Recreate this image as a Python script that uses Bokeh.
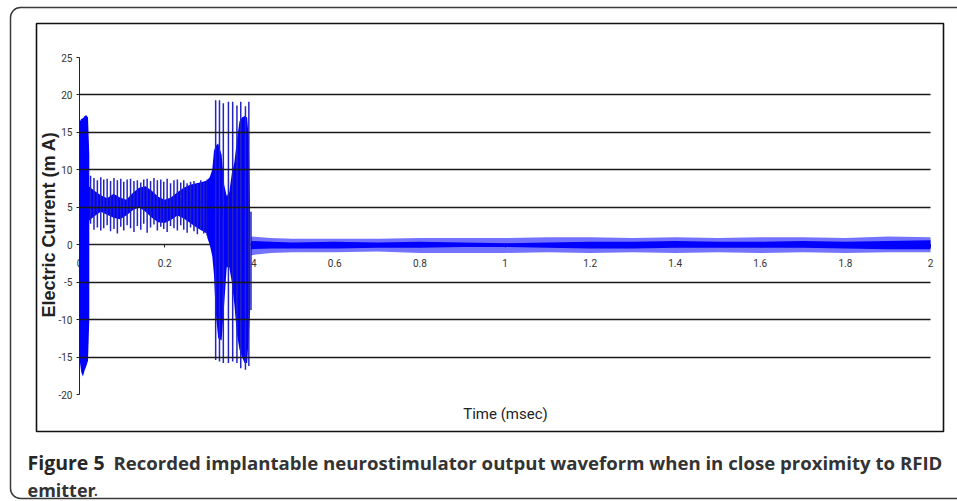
from bokeh.plotting import figure
from bokeh.models import Range1d, FixedTicker, BoxAnnotation, Label, Grid
from bokeh.embed import file_html
from bokeh.resources import INLINE
import math

# ---------------- data ----------------
x_ticks = [0, 0.2, 0.4, 0.6, 0.8, 1.0, 1.2, 1.4, 1.6, 1.8, 2.0]
x_tick_labels = ["0", "0.2", "0.4", "0.6", "0.8", "1", "1.2", "1.4", "1.6", "1.8", "2"]
y_ticks = [-20, -15, -10, -5, 0, 5, 10, 15, 20, 25]
y_tick_labels = ["-20", "-15", "-10", "-5", "0", "5", "10", "15", "20", "25"]
grid_levels = [-15, -10, -5, 5, 10, 15, 20]

# initial spike (solid envelope)
spike_t = [0.000, 0.004, 0.008, 0.012, 0.016, 0.020, 0.023]
spike_hi = [16.4, 16.8, 16.9, 17.2, 17.3, 17.0, 12.0]
spike_lo = [-15.2, -17.0, -17.6, -16.8, -16.2, -15.5, -10.0]

# 0.025 - 0.31 ms : individual oscillation strokes
osc_t = [0.026, 0.034, 0.042, 0.050, 0.057, 0.065, 0.073, 0.081, 0.089, 0.097,
         0.104, 0.112, 0.120, 0.128, 0.136, 0.144, 0.151, 0.159, 0.167, 0.175,
         0.183, 0.191, 0.198, 0.206, 0.214, 0.222, 0.230, 0.238, 0.245, 0.253,
         0.261, 0.269, 0.277, 0.285, 0.292, 0.300]
osc_hi = [9.2, 8.9, 8.6, 9.0, 8.7, 8.8, 8.5, 8.9, 8.6, 8.8,
          8.4, 8.7, 8.8, 8.5, 8.6, 8.3, 8.7, 8.8, 8.5, 8.9,
          8.6, 8.7, 8.4, 8.8, 8.2, 8.6, 8.7, 8.3, 8.6, 8.2,
          8.4, 8.5, 8.1, 8.6, 8.3, 8.7]
osc_lo = [2.8, 2.0, 2.3, 1.9, 2.2, 2.6, 1.8, 2.1, 1.5, 2.4,
          1.9, 2.6, 2.2, 1.7, 2.5, 2.0, 2.8, 1.6, 2.3, 2.7,
          1.9, 2.4, 2.1, 1.7, 2.5, 2.2, 1.9, 2.6, 2.0, 1.6,
          2.3, 1.8, 1.4, 2.1, 1.5, 1.2]

# dense core of that oscillation
band_t = [0.022, 0.035, 0.050, 0.065, 0.080, 0.095, 0.110, 0.125, 0.140, 0.155,
          0.170, 0.185, 0.200, 0.215, 0.230, 0.245, 0.260, 0.275, 0.290, 0.302]
band_hi = [7.8, 7.2, 6.6, 6.2, 6.8, 6.3, 6.0, 6.9, 7.6, 7.8,
           7.2, 6.4, 6.0, 6.3, 7.0, 7.6, 8.0, 8.2, 8.4, 8.6]
band_lo = [3.2, 3.8, 4.4, 4.0, 3.6, 3.4, 3.9, 4.6, 5.0, 4.4,
           3.6, 3.0, 2.9, 3.3, 3.9, 3.5, 2.9, 2.3, 1.8, 1.4]

# RFID burst: solid core
mass_t = [0.300, 0.306, 0.312, 0.316, 0.320, 0.326, 0.334, 0.340, 0.346, 0.352,
          0.358, 0.364, 0.370, 0.376, 0.382, 0.388, 0.394, 0.398, 0.401]
mass_hi = [8.6, 9.0, 10.0, 12.5, 13.2, 13.5, 12.0, 8.0, 6.5, 7.0,
           9.5, 11.0, 14.0, 16.5, 17.0, 17.2, 17.0, 14.0, 4.4]
mass_lo = [1.0, 0.0, -1.5, -4.0, -9.0, -12.5, -12.8, -8.0, -3.0, -3.0,
           -5.0, -8.0, -12.0, -14.0, -15.0, -15.8, -15.8, -12.0, -8.7]

# RFID burst: tall strokes
burst_t = [0.320, 0.329, 0.338, 0.350, 0.360, 0.370, 0.379, 0.390, 0.398, 0.403]
burst_hi = [19.3, 19.3, 18.9, 19.1, 19.1, 18.6, 19.1, 18.5, 19.1, 4.4]
burst_lo = [-15.4, -15.6, -15.8, -15.8, -15.6, -15.8, -16.5, -16.7, -16.2, -8.7]

# residual ripple after the burst
tail_t = [0.403, 0.45, 0.5, 0.6, 0.7, 0.8, 0.9, 1.0, 1.1, 1.2,
          1.3, 1.4, 1.5, 1.6, 1.7, 1.8, 1.9, 2.0]
tail_hi_in = [0.5, 0.4, 0.3, 0.4, 0.3, 0.4, 0.3, 0.2, 0.3, 0.4,
              0.4, 0.5, 0.4, 0.4, 0.5, 0.4, 0.5, 0.6]
tail_lo_in = [-0.6, -0.5, -0.5, -0.5, -0.4, -0.4, -0.3, -0.3, -0.4, -0.5,
              -0.5, -0.4, -0.4, -0.4, -0.4, -0.5, -0.6, -0.6]
tail_hi_out = [1.1, 0.9, 0.8, 0.8, 0.8, 0.9, 0.9, 0.9, 1.0, 1.0,
               0.9, 1.0, 0.9, 1.0, 1.0, 0.9, 1.1, 1.0]
tail_lo_out = [-1.4, -1.1, -1.0, -1.0, -0.9, -1.1, -1.1, -1.1, -1.0, -1.1,
               -1.0, -1.1, -1.0, -1.1, -1.0, -1.1, -1.0, -1.0]

# ---------------- layout (page pixels) ----------------
W, H = 957, 501
PX_X0, PX_X2 = 79.0, 930.0        # pixel of t = 0 and t = 2
PY_25, PY_M20 = 57.0, 394.0       # pixel of 25 mA and -20 mA
sx = (PX_X2 - PX_X0) / 2.0
sy = (PY_M20 - PY_25) / 45.0


def dx(px):  # page px -> data x
    return (px - PX_X0) / sx


def dy(py):  # page py -> data y
    return 25.0 - (py - PY_25) / sy


p = figure(width=W, height=H, x_range=Range1d(dx(0), dx(W)), y_range=Range1d(dy(H), dy(0)),
           output_backend="svg", toolbar_location=None, title=None,
           min_border_left=0, min_border_right=0, min_border_top=0, min_border_bottom=0)
p.outline_line_color = None
p.background_fill_color = "white"
p.border_fill_color = "white"

BLUE = "#0000ff"
LINE_BLUE = "#2424c4"

p.varea(x=spike_t, y1=spike_lo, y2=spike_hi, fill_color=BLUE)
p.varea(x=band_t, y1=band_lo, y2=band_hi, fill_color=BLUE)
p.segment(x0=osc_t, y0=osc_lo, x1=osc_t, y1=osc_hi, line_color=LINE_BLUE, line_width=1.5)
p.varea(x=mass_t, y1=mass_lo, y2=mass_hi, fill_color=BLUE)
p.segment(x0=burst_t, y0=burst_lo, x1=burst_t, y1=burst_hi, line_color=LINE_BLUE, line_width=1.5)
p.varea(x=tail_t, y1=tail_lo_out, y2=tail_hi_out, fill_color=BLUE, fill_alpha=0.55)
p.varea(x=tail_t, y1=tail_lo_in, y2=tail_hi_in, fill_color=BLUE)

# axes (fixed inside the frame, crossing at the origin)
tick_font = "Roboto"
xa = p.xaxis[0]
xa.fixed_location = 0
xa.bounds = (0, 2)
xa.level = "underlay"
xa.ticker = FixedTicker(ticks=x_ticks)
xa.major_label_overrides = dict(zip(x_ticks, x_tick_labels))
xa.axis_line_color = "#222222"
xa.axis_line_width = 1.5
xa.major_tick_line_color = "#222222"
xa.major_tick_out = 3
xa.major_tick_in = 0
xa.minor_tick_line_color = None
xa.major_label_standoff = 11
xa.major_label_text_font = tick_font
xa.major_label_text_font_size = "10px"
xa.major_label_text_color = "#333333"

ya = p.yaxis[0]
ya.fixed_location = 0
ya.bounds = (-20, 25)
ya.level = "underlay"
ya.ticker = FixedTicker(ticks=y_ticks)
ya.major_label_overrides = dict(zip(y_ticks, y_tick_labels))
ya.axis_line_color = "#222222"
ya.axis_line_width = 1
ya.major_tick_line_color = "#222222"
ya.major_tick_out = 3
ya.major_tick_in = 0
ya.minor_tick_line_color = None
ya.major_label_standoff = 4
ya.major_label_text_font = tick_font
ya.major_label_text_font_size = "10px"
ya.major_label_text_color = "#333333"

p.xgrid.visible = False
GRID_COLOR, GRID_W = "#1a1a1a", 1.6
if "cross_bounds" in Grid.properties():
    p.ygrid.ticker = FixedTicker(ticks=grid_levels)
    p.ygrid.cross_bounds = (0, 2)
    p.ygrid.grid_line_color = GRID_COLOR
    p.ygrid.grid_line_width = GRID_W
    p.ygrid.level = "overlay"
else:
    p.ygrid.visible = False
    p.segment(x0=[0] * len(grid_levels), y0=grid_levels, x1=[2] * len(grid_levels), y1=grid_levels,
              line_color=GRID_COLOR, line_width=GRID_W, level="overlay")

# chart box and outer figure panel
p.add_layout(BoxAnnotation(left=dx(36), right=dx(943), top=dy(23), bottom=dy(431),
                           fill_color=None, line_color="#111111", line_alpha=1.0, line_width=1.6))
p.add_layout(BoxAnnotation(left=dx(10), right=dx(975), top=dy(7), bottom=dy(498),
                           fill_color=None, line_color="#3a3a3a", line_alpha=1.0, line_width=1.5,
                           border_radius=10))

# axis titles
p.add_layout(Label(x=dx(48), y=dy(224), text="Electric Current (m A)", angle=math.pi / 2,
                   text_align="center", text_baseline="middle",
                   text_font="Liberation Sans", text_font_style="bold",
                   text_font_size="18px", text_color="#222222"))
p.add_layout(Label(x=dx(505), y=dy(413), text="Time (msec)",
                   text_align="center", text_baseline="middle",
                   text_font="Roboto",
                   text_font_size="15px", text_color="#222222"))

# caption
cap_font = "Open Sans"
p.add_layout(Label(x=dx(27), y=dy(462), text="Figure 5",
                   text_align="left", text_baseline="alphabetic",
                   text_font=cap_font, text_font_style="bold",
                   text_font_size="19.5px", text_color="#262626"))
p.add_layout(Label(x=dx(113), y=dy(462),
                   text="Recorded implantable neurostimulator output waveform when in close proximity to RFID",
                   text_align="left", text_baseline="alphabetic",
                   text_font=cap_font, text_font_style="bold",
                   text_font_size="18.6px", text_color="#333333"))
p.add_layout(Label(x=dx(27), y=dy(489), text="emitter",
                   text_align="left", text_baseline="alphabetic",
                   text_font=cap_font, text_font_style="bold",
                   text_font_size="18px", text_color="#333333"))
p.add_layout(Label(x=dx(93), y=dy(489), text=".",
                   text_align="left", text_baseline="alphabetic",
                   text_font=cap_font, text_font_size="18px", text_color="#333333"))

open("out.html", "w").write(file_html(p, INLINE))
